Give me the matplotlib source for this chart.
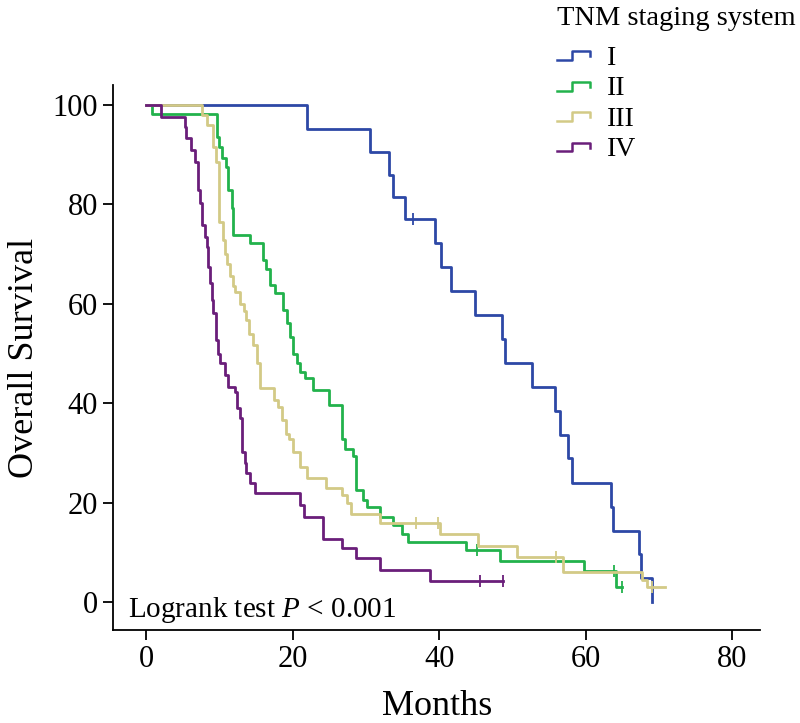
import numpy as np
import matplotlib
matplotlib.use("Agg")
import matplotlib.pyplot as plt
from matplotlib.legend_handler import HandlerBase
from matplotlib.lines import Line2D

plt.rcParams['font.family'] = ['Liberation Serif', 'DejaVu Serif']
plt.rcParams['mathtext.fontset'] = 'custom'
plt.rcParams['mathtext.rm'] = 'Liberation Serif'
plt.rcParams['mathtext.it'] = 'Liberation Serif:italic'

# Kaplan-Meier steps: event times (months) and survival (%)
t_I = [0, 21.9, 30.6, 33.1, 33.7, 35.3, 39.4, 40.3, 41.6, 44.9, 48.6, 49.0,
       52.7, 55.8, 56.5, 57.6, 58.1, 63.4, 63.7, 67.2, 67.5, 69.0]
s_I = [100, 95.2, 90.6, 86.0, 81.4, 77.0, 72.2, 67.4, 62.6, 57.8, 52.9, 48.1,
       43.3, 38.5, 33.7, 28.9, 24.0, 19.2, 14.4, 9.6, 4.8, 0]
end_I = 69.0
cens_I = [36.4]

t_II = [0, 0.8, 9.7, 9.9, 10.3, 10.9, 11.2, 11.7, 11.9, 14.2, 16.0, 16.4, 16.9,
        17.6, 18.7, 19.3, 19.7, 20.1, 20.6, 21.0, 21.7, 22.8, 24.9, 26.8, 27.1,
        28.3, 28.7, 29.6, 30.1, 31.9, 33.7, 34.9, 35.7, 43.7, 48.3, 59.7, 64.1]
s_II = [100, 98.2, 93.5, 91.6, 89.3, 87.6, 82.9, 79.2, 73.8, 72.3, 68.8, 67.1, 63.8,
        62.1, 58.8, 56.1, 53.4, 50.0, 48.0, 46.3, 45.0, 42.7, 39.6, 32.8, 30.9,
        29.4, 22.5, 20.5, 19.2, 17.2, 15.5, 13.8, 12.1, 10.5, 8.3, 6.3, 3.1]
end_II = 64.9
cens_II = [45.1, 63.8, 64.9]

t_III = [0, 7.6, 8.3, 9.2, 9.5, 9.9, 10.5, 10.8, 11.1, 11.5, 11.8, 12.1, 12.8,
         13.3, 13.7, 14.0, 14.6, 15.1, 15.6, 17.4, 18.0, 18.6, 19.1, 19.5, 20.0,
         21.0, 22.0, 24.6, 26.7, 27.4, 28.0, 31.9, 40.1, 45.3, 50.6, 56.9, 67.6, 68.3]
s_III = [100, 98.0, 96.0, 91.5, 88.5, 76.5, 72.8, 70.0, 68.1, 65.5, 63.5, 62.4, 60.0,
         58.5, 56.7, 54.0, 51.7, 48.1, 43.0, 40.6, 39.3, 36.6, 33.9, 32.9, 30.2,
         27.2, 24.9, 22.9, 21.5, 19.9, 17.8, 16.0, 13.7, 11.3, 9.0, 6.1, 4.5, 3.0]
end_III = 70.8
cens_III = [36.8, 39.9, 55.9, 69.0]

t_IV = [0, 2.1, 5.3, 5.5, 6.2, 6.7, 7.1, 7.3, 7.6, 8.0, 8.3, 8.5, 8.7, 9.0, 9.2,
        9.5, 9.6, 9.8, 10.1, 10.8, 11.2, 12.1, 12.4, 12.8, 13.1, 13.5, 13.7, 14.2,
        14.9, 21.0, 21.6, 24.1, 26.7, 28.7, 31.9, 38.7]
s_IV = [100, 97.5, 95.6, 93.3, 90.9, 88.6, 82.9, 80.2, 75.9, 73.5, 71.5, 67.5, 64.1,
        60.8, 58.1, 55.4, 52.7, 50.0, 48.0, 45.7, 43.3, 42.3, 39.0, 37.0, 30.2, 27.9,
        25.9, 23.9, 21.9, 19.5, 17.2, 12.8, 10.8, 8.8, 6.4, 4.2]
end_IV = 48.7
cens_IV = [45.5, 48.7]

labels = ['I', 'II', 'III', 'IV']
colors = ['#2d48a6', '#22b24c', '#d3ca86', '#6a1e7a']


class StepHandler(HandlerBase):
    # small step-shaped legend key, like the survival curves themselves
    def create_artists(self, legend, orig_handle, xdescent, ydescent,
                       width, height, fontsize, trans):
        xs = np.array([0, 0.45, 0.45, 1.0, 1.0]) * width - xdescent
        ys = np.array([0.25, 0.25, 0.7, 0.7, 0.45]) * height - ydescent
        line = Line2D(xs, ys, color=orig_handle.get_color(), lw=1.8)
        line.set_transform(trans)
        return [line]


fig = plt.figure(figsize=(8, 7.23), dpi=100)
ax = fig.add_axes([0.1413, 0.1286, 0.809, 0.7538])

curves = [(t_I, s_I, end_I, cens_I), (t_II, s_II, end_II, cens_II),
          (t_III, s_III, end_III, cens_III), (t_IV, s_IV, end_IV, cens_IV)]
handles = []
for (t, s, end, cens), lab, col in zip(curves, labels, colors):
    tt = list(t) + [end]
    ss = list(s) + [s[-1]]
    h, = ax.step(tt, ss, where='post', color=col, lw=2.0, label=lab)
    handles.append(h)
    # censoring marks at the survival level in force at that time
    cy = [s[np.searchsorted(t, c, side='right') - 1] for c in cens]
    ax.plot(cens, cy, ls='none', marker='|', ms=9, mew=1.3, color=col)

ax.set_xlim(-4.5, 83.8)
ax.set_ylim(-5.6, 104)
ax.set_xticks([0, 20, 40, 60, 80])
ax.set_yticks([0, 20, 40, 60, 80, 100])
ax.spines['top'].set_visible(False)
ax.spines['right'].set_visible(False)
for sp in ['left', 'bottom']:
    ax.spines[sp].set_linewidth(1.3)
ax.tick_params(axis='both', length=7, width=1.3, labelsize=22, pad=4)
ax.set_xlabel('Months', fontsize=26, labelpad=11)
ax.set_ylabel('Overall Survival', fontsize=26, labelpad=8)

ax.text(-2.5, -3.0, 'Logrank test $P$ < 0.001', fontsize=21, va='baseline', ha='left')

fig.text(0.696, 0.992, 'TNM staging system', fontsize=20.5, ha='left', va='top')
leg = fig.legend(handles=handles, labels=labels,
                 handler_map={Line2D: StepHandler()}, loc='upper left',
                 bbox_to_anchor=(0.696, 0.937), frameon=False, fontsize=20,
                 handlelength=1.2, handletextpad=0.6, borderpad=0,
                 labelspacing=0.18, borderaxespad=0)

fig.savefig('out.png', dpi=100)
